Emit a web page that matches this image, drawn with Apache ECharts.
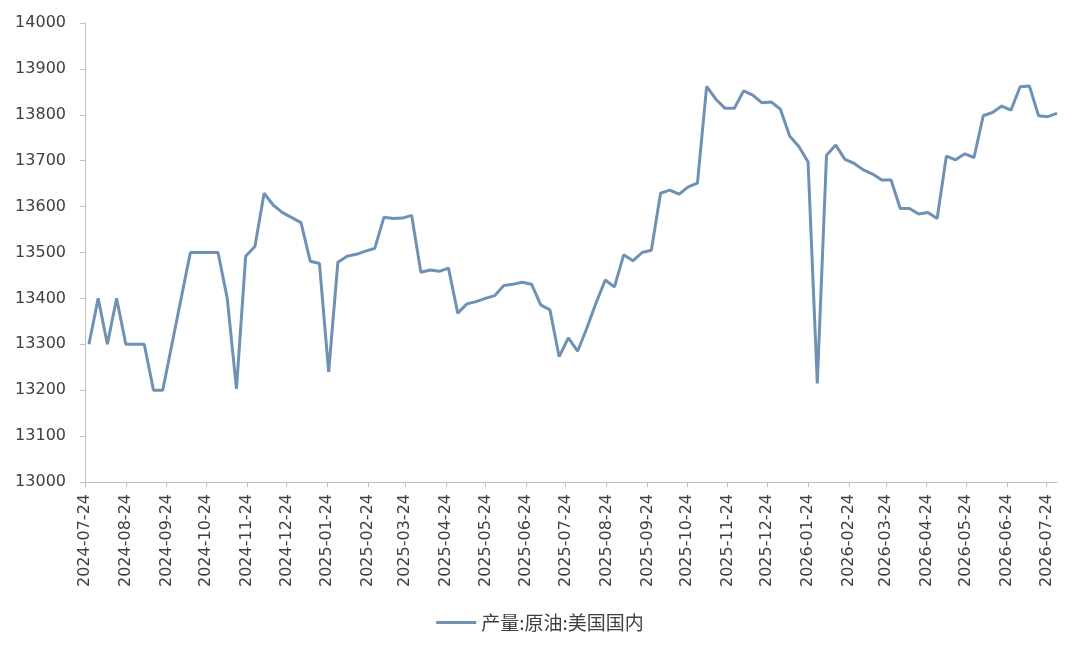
<!DOCTYPE html>
<html>
<head>
<meta charset="utf-8">
<script src="https://cdn.jsdelivr.net/npm/echarts@6/dist/echarts.min.js"></script>
<style>
html,body{margin:0;padding:0;background:#fff;}
#chart{width:1080px;height:649px;}
</style>
</head>
<body>
<div id="chart"></div>
<script>
// Axis range (daily category axis) and first weekly observation
const axisStart = '2024-07-24';
const axisEnd = '2026-08-01';
const firstObs = '2024-07-27';
const seriesName = '产量:原油:美国国内';
// Weekly values
const values = [
  13300, 13400, 13300, 13400, 13300, 13300, 13300, 13200, 13200, 13300,
  13400, 13500, 13500, 13500, 13500, 13400, 13203, 13492, 13513, 13629,
  13603, 13587, 13576, 13565, 13481, 13476, 13240, 13479, 13492, 13496,
  13503, 13509, 13577, 13574, 13575, 13581, 13457, 13462, 13459, 13466,
  13368, 13388, 13393, 13400, 13406, 13428, 13431, 13435, 13431, 13386,
  13375, 13273, 13314, 13285, 13335, 13390, 13440, 13425, 13495, 13482,
  13500, 13505, 13629, 13636, 13627, 13643, 13651, 13862, 13834, 13814,
  13814, 13852, 13843, 13826, 13828, 13812, 13754, 13731, 13697, 13215,
  13712, 13734, 13703, 13694, 13680, 13671, 13658, 13658, 13596, 13596,
  13584, 13587, 13574, 13710, 13702, 13715, 13707, 13798, 13805, 13819,
  13810, 13861, 13863, 13798, 13796, 13803
];
const yMin = 13000, yMax = 14000, yStep = 100;

function fmt(d){
  const m = String(d.getUTCMonth()+1).padStart(2,'0');
  const day = String(d.getUTCDate()).padStart(2,'0');
  return d.getUTCFullYear()+'-'+m+'-'+day;
}
const DAY = 86400000;
const days = [];
for (let t = Date.parse(axisStart+'T00:00:00Z'); t <= Date.parse(axisEnd+'T00:00:00Z'); t += DAY) {
  days.push(fmt(new Date(t)));
}
const obsStart = Date.parse(firstObs+'T00:00:00Z');
const seriesData = values.map((v, i) => [fmt(new Date(obsStart + i*7*DAY)), v]);
const isLabelDay = (idx, val) => val.slice(8) === '24';

const chart = echarts.init(document.getElementById('chart'));
chart.setOption({
  animation: false,
  backgroundColor: '#ffffff',
  grid: {left: 85, right: 23, top: 23, bottom: 167, containLabel: false},
  legend: {
    data: [seriesName],
    left: 'center',
    top: 608,
    icon: 'rect',
    itemWidth: 40,
    itemHeight: 3,
    itemGap: 6,
    textStyle: {fontSize: 19, color: '#404040', fontFamily: 'Noto Sans CJK SC'}
  },
  xAxis: {
    type: 'category',
    data: days,
    boundaryGap: false,
    axisLine: {lineStyle: {color: '#bfbfbf', width: 1}},
    axisTick: {show: true, interval: isLabelDay, length: 5, lineStyle: {color: '#bfbfbf'}},
    axisLabel: {
      interval: isLabelDay,
      rotate: 90,
      margin: 12,
      fontSize: 16,
      color: '#404040',
      fontFamily: 'DejaVu Sans'
    },
    splitLine: {show: false}
  },
  yAxis: {
    type: 'value',
    min: yMin,
    max: yMax,
    interval: yStep,
    axisLine: {show: true, lineStyle: {color: '#bfbfbf', width: 1}},
    axisTick: {show: true, length: 5, lineStyle: {color: '#bfbfbf'}},
    axisLabel: {
      fontSize: 16, color: '#404040', margin: 19, fontFamily: 'DejaVu Sans',
      formatter: v => String(v)
    },
    splitLine: {show: false}
  },
  series: [{
    name: seriesName,
    type: 'line',
    data: seriesData,
    showSymbol: false,
    symbol: 'none',
    lineStyle: {color: '#6f92b4', width: 3},
    itemStyle: {color: '#6f92b4'}
  }]
});
</script>
</body>
</html>
